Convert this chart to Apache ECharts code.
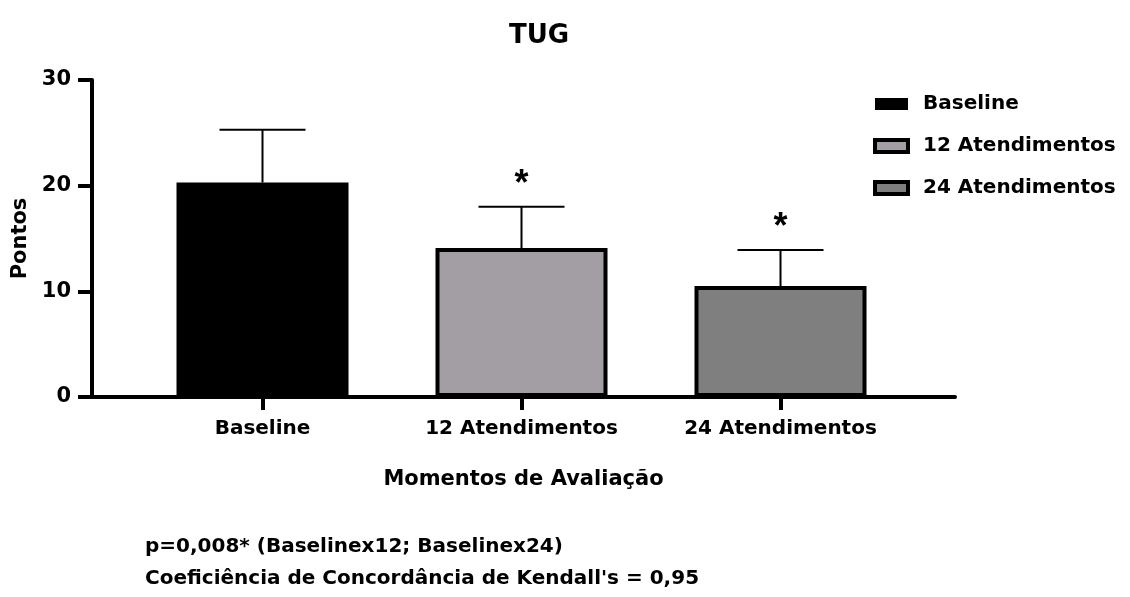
<!DOCTYPE html>
<html>
<head>
<meta charset="utf-8">
<script src="https://cdn.jsdelivr.net/npm/echarts@6/dist/echarts.min.js"></script>
<style>html,body{margin:0;padding:0;background:#fff;}#c{width:1130px;height:597px;}</style>
</head>
<body>
<div id="c"></div>
<script>
var categories = ['Baseline', '12 Atendimentos', '24 Atendimentos'];
var means = [20.3, 14.1, 10.5];
var sds = [5.0, 3.9, 3.4];
var significance = ['', '*', '*'];
var yTicks = [0, 10, 20, 30];
var fills = ['#000000', '#a39ea4', '#7f7f7f'];
var titleText = 'TUG';
var yName = 'Pontos';
var xName = 'Momentos de Avaliação';
var noteLines = ['p=0,008* (Baselinex12; Baselinex24)', "Coeficiência de Concordância de Kendall's = 0,95"];

var FONT = '"DejaVu Sans", "Liberation Sans", Arial, sans-serif';
var FONT2 = '"Liberation Sans", Arial, sans-serif';
var chart = echarts.init(document.getElementById('c'), null, {renderer: 'canvas'});

var barSeries = categories.map(function (name, i) {
  return {
    name: name,
    type: 'bar',
    xAxisIndex: 1,
    yAxisIndex: 1,
    barWidth: 172,
    barGap: '-100%',
    data: categories.map(function (c, j) { return j === i ? means[j] : '-'; }),
    itemStyle: {color: fills[i], borderColor: '#000', borderWidth: i === 0 ? 0 : 4},
    z: 3
  };
});

var errData = categories.map(function (c, i) { return [i, means[i], sds[i], significance[i]]; });

var option = {
  animation: false,
  backgroundColor: '#fff',
  textStyle: {fontFamily: FONT},
  title: {
    text: titleText, left: 534, top: 18, textAlign: 'center',
    textStyle: {fontFamily: FONT, fontWeight: 'bold', fontSize: 26, color: '#000'}
  },
  legend: {
    orient: 'vertical', left: 868, top: 89,
    itemWidth: 33, itemHeight: 12, itemGap: 22,
    icon: 'rect',
    data: categories.map(function (c, i) {
      return {name: c, itemStyle: {color: fills[i], borderColor: '#000', borderWidth: i === 0 ? 0 : 4}};
    }),
    textStyle: {fontFamily: FONT, fontWeight: 'bold', fontSize: 20, color: '#000', padding: [0, 0, 0, 10]}
  },
  grid: [
    {left: 92, right: 175, top: 80, bottom: 200, containLabel: false},
    {left: 133, width: 777, top: 80, bottom: 200, containLabel: false}
  ],
  xAxis: [
    {
      type: 'value', gridIndex: 0, min: 0, max: 1,
      axisLine: {show: true, onZero: false, lineStyle: {color: '#000', width: 4}},
      axisTick: {show: false}, axisLabel: {show: false}, splitLine: {show: false},
      name: xName, nameLocation: 'middle', nameGap: 72,
      nameTextStyle: {fontFamily: FONT, fontWeight: 'bold', fontSize: 21, color: '#000'}
    },
    {
      type: 'category', gridIndex: 1, data: categories, boundaryGap: true,
      axisLine: {show: false},
      axisTick: {show: true, alignWithLabel: true, length: 13, lineStyle: {color: '#000', width: 4}},
      axisLabel: {margin: 22, fontFamily: FONT, fontWeight: 'bold', fontSize: 20, color: '#000'},
      splitLine: {show: false}
    }
  ],
  yAxis: [
    {
      type: 'value', gridIndex: 0, min: 0, max: 30, interval: 10,
      axisLine: {show: true, lineStyle: {color: '#000', width: 4}},
      axisTick: {show: true, length: 14, lineStyle: {color: '#000', width: 4}},
      axisLabel: {margin: 21, fontFamily: FONT, fontWeight: 'bold', fontSize: 21, color: '#000',
        formatter: function (v) { return yTicks.indexOf(v) >= 0 ? String(v) : ''; }},
      splitLine: {show: false},
      name: yName, nameLocation: 'middle', nameGap: 58, nameRotate: 90,
      nameTextStyle: {fontFamily: FONT, fontWeight: 'bold', fontSize: 21, color: '#000'}
    },
    {
      type: 'value', gridIndex: 1, min: 0, max: 30, interval: 10, show: false
    }
  ],
  series: barSeries.concat([{
    type: 'custom',
    name: 'err',
    xAxisIndex: 1, yAxisIndex: 1,
    z: 2,
    data: errData,
    renderItem: function (params, api) {
      var x = api.value(0), m = api.value(1), s = api.value(2);
      var sig = errData[params.dataIndex][3];
      var p0 = api.coord([x, m]);
      var p1 = api.coord([x, m + s]);
      var half = 43;
      var children = [
        {type: 'line', shape: {x1: p0[0], y1: p0[1], x2: p1[0], y2: p1[1]}, style: {stroke: '#000', lineWidth: 2}},
        {type: 'line', shape: {x1: p1[0] - half, y1: p1[1], x2: p1[0] + half, y2: p1[1]}, style: {stroke: '#000', lineWidth: 2}}
      ];
      if (sig) {
        children.push({type: 'text', x: p1[0], y: p1[1] - 4,
          style: {text: sig, fontFamily: FONT2, fontWeight: 'bold', fontSize: 36, fill: '#000', align: 'center', verticalAlign: 'bottom'}});
      }
      return {type: 'group', children: children};
    }
  }]),
  graphic: [
    {type: 'text', left: 145, top: 537, style: {text: noteLines[0], fontFamily: FONT, fontWeight: 'bold', fontSize: 20, fill: '#000'}},
    {type: 'text', left: 145, top: 569, style: {text: noteLines[1], fontFamily: FONT, fontWeight: 'bold', fontSize: 20, fill: '#000'}}
  ]
};
chart.setOption(option);
</script>
</body>
</html>
